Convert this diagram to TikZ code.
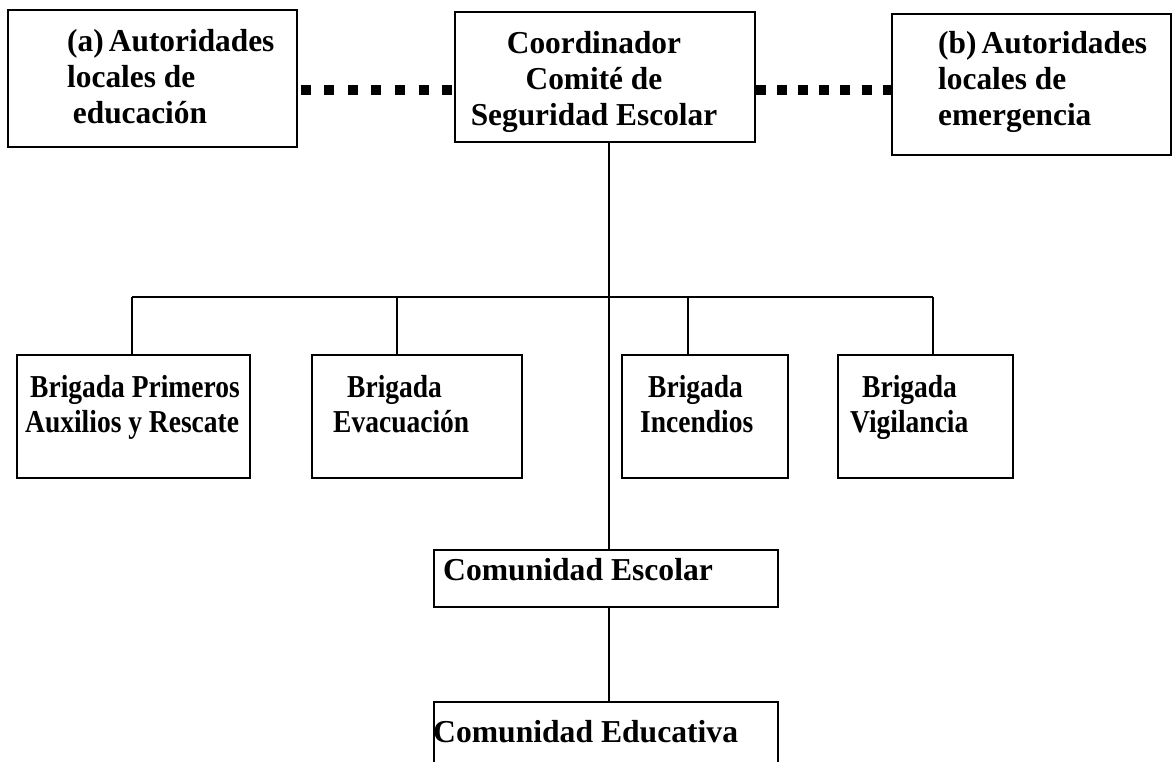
\documentclass[tikz,border=0pt]{standalone}
\usepackage{fontspec}
\setmainfont{Liberation Serif}
\usepackage{graphicx}
\newcommand{\rotulo}[3][l]{\scalebox{#2}[1.16]{\fontsize{27.5}{31}\selectfont\bfseries\begin{tabular}[t]{@{}#1@{}}#3\end{tabular}}}
\begin{document}
\begin{tikzpicture}[x=1pt,y=-1pt]
\tikzstyle{caja}=[draw, line width=1.3pt, inner sep=0pt]
\tikzstyle{texto}=[inner sep=0pt, anchor=base west]
\tikzstyle{linea}=[line width=1.2pt]
\tikzstyle{puntos}=[line width=10pt, dash pattern=on 10pt off #1]
\useasboundingbox (0,0) rectangle (1172,762);
% cajas
\node[caja, minimum width=289pt, minimum height=137pt] (autA) at (152.5,78.5) {};
\node[caja, minimum width=300pt, minimum height=130pt] (coord) at (605,77) {};
\node[caja, minimum width=279pt, minimum height=141pt] (autB) at (1031.5,84.5) {};
\node[caja, minimum width=233pt, minimum height=123pt] (brig1) at (133.5,416.5) {};
\node[caja, minimum width=210pt, minimum height=123pt] (brig2) at (417,416.5) {};
\node[caja, minimum width=166pt, minimum height=123pt] (brig3) at (705,416.5) {};
\node[caja, minimum width=175pt, minimum height=123pt] (brig4) at (925.5,416.5) {};
\node[caja, minimum width=344pt, minimum height=57pt] (escolar) at (606,578.5) {};
\node[caja, minimum width=344pt, minimum height=70pt] (educ) at (606,737) {};
% textos
\node[texto] (tA) at (67,52) {\rotulo{1.14}{(a)\,Autoridades\\locales de\\\hspace*{5pt}educación}};
\node[texto, anchor=base] (tC) at (594,54) {\rotulo[c]{1.14}{Coordinador\\Comité de\\Seguridad Escolar}};
\node[texto] (tB) at (938,54) {\rotulo{1.14}{(b)\,Autoridades\\locales de\\emergencia}};
\node[texto] (t1) at (25,397) {\rotulo{1}{\hspace*{5pt}Brigada Primeros\\Auxilios y Rescate}};
\node[texto] (t2) at (333,397) {\rotulo{1}{\hspace*{14pt}Brigada\\Evacuación}};
\node[texto] (t3) at (640,397) {\rotulo{1}{\hspace*{8pt}Brigada\\Incendios}};
\node[texto] (t4) at (850,397) {\rotulo{1}{\hspace*{12pt}Brigada\\Vigilancia}};
\node[texto] (tE) at (443,580) {\rotulo{1.15}{Comunidad Escolar}};
\node[texto] (tF) at (433,742) {\rotulo{1.15}{Comunidad Educativa}};
% enlaces punteados
\coordinate (nivel) at (0,90);
\draw[puntos=13.6pt, dash phase=-3pt] (autA.east |- nivel) -- (coord.west |- nivel);
\draw[puntos=11.2pt] (coord.east |- nivel) -- (autB.west |- nivel);
% tronco y ramas
\coordinate (tronco) at (609,297);
\draw[linea] (coord.south -| tronco) -- (escolar.north -| tronco);
\draw[linea] (escolar.south -| tronco) -- (educ.north -| tronco);
\coordinate (d1) at (132,297);
\coordinate (d2) at (397,297);
\coordinate (d3) at (688,297);
\coordinate (d4) at (933,297);
\draw[linea] (d1) -- (d4);
\foreach \pto/\bri in {d1/brig1, d2/brig2, d3/brig3, d4/brig4}
  \draw[linea] (\pto) -- (\pto |- \bri.north);
\end{tikzpicture}
\end{document}
